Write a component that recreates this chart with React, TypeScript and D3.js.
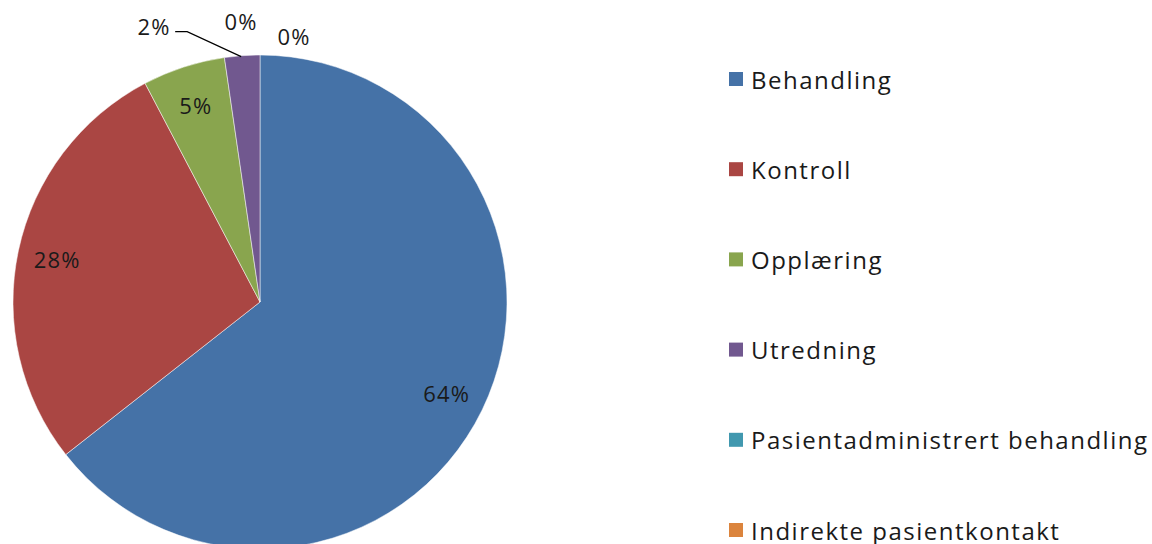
import React from "react";
import * as d3 from "d3";

const categories = [
  "Behandling",
  "Kontroll",
  "Opplæring",
  "Utredning",
  "Pasientadministrert behandling",
  "Indirekte pasientkontakt",
];
const shares = [64.4, 27.9, 5.4, 2.3, 0, 0];
const colors = ["#4572A7", "#AA4643", "#89A54E", "#71588F", "#4198AF", "#DB843D"];

const width = 1152;
const height = 544;
const cx = 260;
const cy = 302;
const radius = 247;
const fontFamily = "'Open Sans', 'DejaVu Sans', sans-serif";

export default function App() {
  const pie = d3.pie<number>().sort(null).value((d) => d);
  const arcs = pie(shares);
  const arc = d3.arc<d3.PieArcDatum<number>>().innerRadius(0).outerRadius(radius);
  const labelArc = d3.arc<d3.PieArcDatum<number>>().innerRadius(radius * 0.84).outerRadius(radius * 0.84);

  // outside labels for the tiny slices (dx, dy from the slice's outer point)
  const outside: Record<number, [number, number]> = {
    3: [-88, -30],
    4: [-19, -34],
    5: [34, -19],
  };

  const legendY = d3.scalePoint<string>().domain(categories).range([79, 530]);

  return (
    <svg
      width={width}
      height={height}
      style={{ position: "absolute", left: 0, top: 0, background: "#fff" }}
    >
      <g transform={`translate(${cx},${cy})`}>
        {arcs.map((a, i) =>
          a.value > 0 ? (
            <path key={i} d={arc(a) || ""} fill={colors[i]} stroke="#fff" strokeWidth={0.5} />
          ) : null
        )}
        {arcs.map((a, i) => {
          const label = `${Math.round(a.value)}%`;
          if (outside[i]) {
            const mid = (a.startAngle + a.endAngle) / 2;
            const px = Math.sin(mid) * radius;
            const py = -Math.cos(mid) * radius;
            const [dx, dy] = outside[i];
            const lx = px + dx;
            const ly = py + dy;
            return (
              <g key={i}>
                {i === 3 && (
                  <polyline
                    points={`${px - 1},${py + 1} ${lx + 33},${ly + 6} ${lx + 21},${ly + 6}`}
                    fill="none"
                    stroke="#000"
                    strokeWidth={1.2}
                  />
                )}
                <text
                  x={lx}
                  y={ly}
                  textAnchor="middle"
                  dominantBaseline="central"
                  fontSize={22}
                  letterSpacing={1.2}
                  fontFamily={fontFamily}
                  fill="#1a1a1a"
                >
                  {label}
                </text>
              </g>
            );
          }
          const [x, y] = labelArc.centroid(a);
          return (
            <text
              key={i}
              x={x}
              y={y}
              textAnchor="middle"
              dominantBaseline="central"
              fontSize={22}
              letterSpacing={1.2}
              fontFamily={fontFamily}
              fill="#1a1a1a"
            >
              {label}
            </text>
          );
        })}
      </g>
      <g>
        {categories.map((c, i) => (
          <g key={c} transform={`translate(729,${legendY(c)})`}>
            <rect x={0} y={-7} width={14} height={14} fill={colors[i]} />
            <text
              x={22}
              y={0}
              dominantBaseline="central"
              fontSize={24}
              fontFamily={fontFamily}
              fill="#1a1a1a"
              letterSpacing={1.5}
            >
              {c}
            </text>
          </g>
        ))}
      </g>
    </svg>
  );
}
